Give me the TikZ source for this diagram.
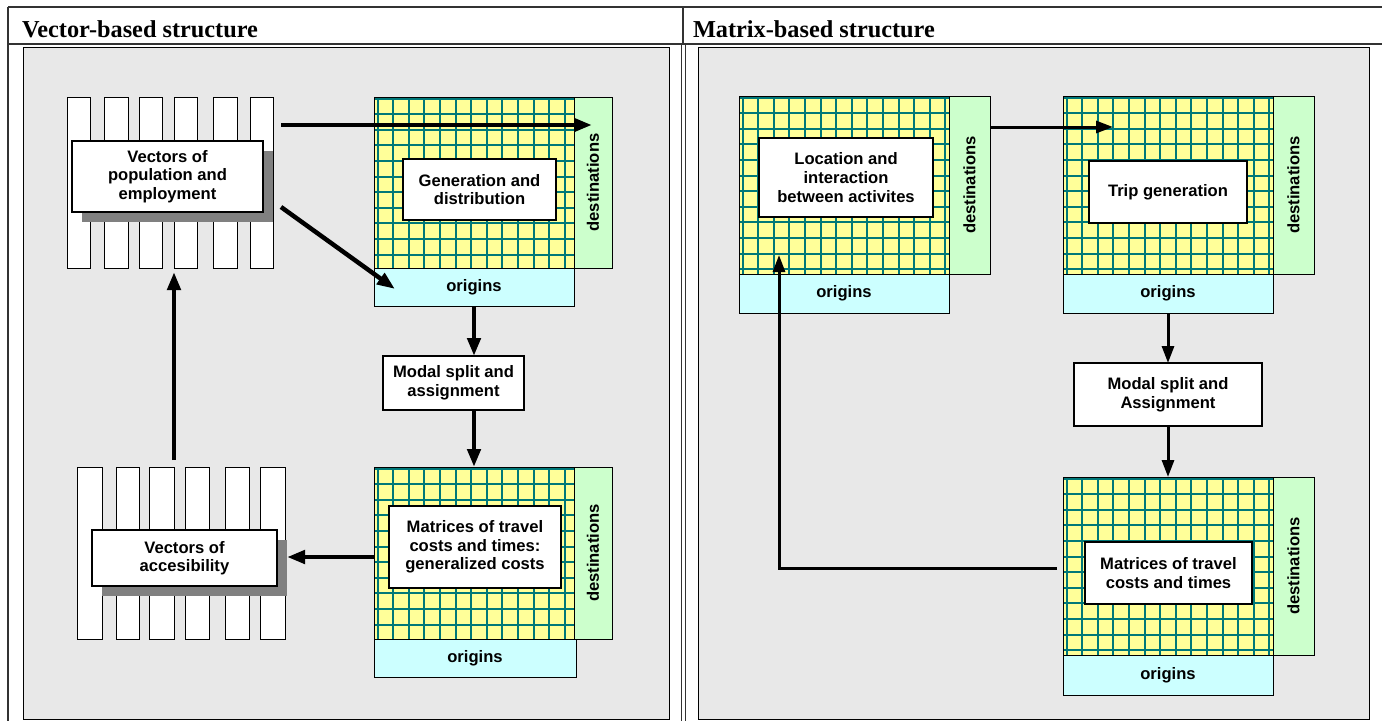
\documentclass[tikz,border=0pt]{standalone}
\usepackage{fontspec}
\setmainfont{Liberation Serif}
\setsansfont{Liberation Sans}
\usetikzlibrary{arrows.meta,fit,shadows,calc}
\definecolor{panelgray}{RGB}{232,232,232}
\definecolor{gridyellow}{RGB}{255,255,153}
\definecolor{gridteal}{RGB}{0,120,120}
\definecolor{destgreen}{RGB}{204,255,204}
\definecolor{origcyan}{RGB}{204,255,255}
\definecolor{shadowgray}{RGB}{128,128,128}
\tikzset{
  every node/.style={inner sep=0, outer sep=0},
  panel/.style={draw=black, line width=1pt, fill=panelgray},
  tableline/.style={draw=black!80, line width=1.3pt},
  bar/.style={draw=black, line width=1pt, fill=white},
  gridbox/.style={draw=black, line width=1pt, fill=gridyellow},
  gridline/.style={draw=gridteal, line width=2pt},
  destbox/.style={draw=black, line width=1pt, fill=destgreen},
  origbox/.style={draw=black, line width=1pt, fill=origcyan},
  lbl/.style={font=\sffamily\bfseries\fontsize{16.6}{18.6}\selectfont, align=center},
  whitebox/.style={draw=black, line width=1.2pt, fill=white, lbl},
  vecbox/.style={whitebox, drop shadow={shadow xshift=10pt, shadow yshift=-10pt, fill=shadowgray, opacity=1}},
  bigarrow/.style={line width=4.5pt, -{Triangle[length=18pt,width=13pt]}},
  arrowR/.style={line width=3pt, -{Triangle[length=17pt,width=12pt]}},
  header/.style={font=\bfseries\fontsize{24.3}{28}\selectfont, anchor=base west},
}
% name, x0, y0, x1, y1, xdest, yorig, xorig
\newcommand\odmat[8]{%
  \node[gridbox, fit={(#2,#3) (#4,#5)}] (#1g) {};
  \begin{scope}
    \clip (#2,#3) rectangle (#4,#5);
    \foreach \i in {0,...,14} \draw[gridline] ({#2+3.5+\i*15.6},#3) -- ({#2+3.5+\i*15.6},#5);
    \foreach \i in {0,...,12} \draw[gridline] (#2,{#3+1.5+\i*15.6}) -- (#4,{#3+1.5+\i*15.6});
  \end{scope}
  \draw[black, line width=1pt] (#1g.south west) rectangle (#1g.north east);
  \node[destbox, fit={(#4,#3) (#6,#5)}] (#1d) {};
  \node[lbl, rotate=90] (#1dt) at (#1d.center) {destinations};
  \node[origbox, fit={(#2,#5) (#8,#7)}] (#1o) {};
  \node[lbl] (#1ot) at (#1o.center) {origins};
}
\begin{document}
\begin{tikzpicture}[x=1pt, y=-1pt]
\useasboundingbox (0,0) rectangle (1382,721);
% table
\draw[tableline] (8,7) -- (1382,7);
\draw[tableline] (8,44) -- (1382,44);
\draw[tableline] (8,7) -- (8,721);
\draw[tableline] (683,7) -- (683,44);
\draw[black!80, line width=1pt] (681,44) -- (681,721);
\draw[black!80, line width=1pt] (685,44) -- (685,721);
\node[header] (h1) at (22,37) {Vector-based structure};
\node[header] (h2) at (693,37) {Matrix-based structure};
% panels
\node[panel, fit={(23,47) (669,719)}] (pL) {};
\node[panel, fit={(698,47) (1369,719)}] (pR) {};

% ---------- left: vectors top
\foreach \a/\b [count=\k] in {67/90,104/128,139/162,174/197,213/237,250/273}
  \node[bar, fit={(\a,97) (\b,268)}] (vt\k) {};
\node[vecbox, minimum width=191, minimum height=71] (vtop) at (167.5,176.5) {Vectors of\\population and\\employment};
% vectors bottom
\foreach \a/\b [count=\k] in {77/102,116/139,149/174,185/209,225/249,260/285}
  \node[bar, fit={(\a,467) (\b,639)}] (vb\k) {};
\node[vecbox, minimum width=185, minimum height=56] (vbot) at (184.5,558) {Vectors of\\accesibility};

% left matrices
\odmat{mA}{374}{97}{574}{268}{612}{306}{574}
\node[whitebox, minimum width=153, minimum height=61] (mAb) at (479.5,189.5) {Generation and\\distribution};
\odmat{mB}{374}{467}{574}{639}{612}{677}{576}
\node[whitebox, minimum width=172, minimum height=82] (mBb) at (475,547) {Matrices of travel\\costs and times:\\generalized costs};
\node[whitebox, minimum width=141, minimum height=54] (modL) at (453.5,383) {Modal split and\\assignment};

% left arrows
\coordinate (a1s) at (281,125);
\coordinate (a1e) at (592,125);
\draw[bigarrow] (a1s) -- (a1e);
\coordinate (a2s) at (281,207);
\coordinate (a2e) at (395,289);
\draw[bigarrow] (a2s) -- (a2e);
\draw[bigarrow] (mAo.south) -- (mAo.south |- modL.north);
\draw[bigarrow] (modL.south -| mBg.north) -- (mBg.north);
\coordinate (a5s) at (374,557);
\coordinate (a5e) at (287,557);
\draw[bigarrow] (a5s) -- (a5e);
\coordinate (a6s) at (174,460);
\coordinate (a6e) at (174,272);
\draw[bigarrow] (a6s) -- (a6e);

% ---------- right matrices
\odmat{mC}{739}{96}{949}{274}{990}{313}{949}
\node[whitebox, minimum width=174, minimum height=79] (mCb) at (846,177.5) {Location and\\interaction\\between activites};
\odmat{mD}{1063}{96}{1273}{274}{1314}{313}{1273}
\node[whitebox, minimum width=158, minimum height=62] (mDb) at (1168,192) {Trip generation};
\odmat{mE}{1063}{477}{1273}{655}{1314}{695}{1273}
\node[whitebox, minimum width=167, minimum height=62] (mEb) at (1168.5,573) {Matrices of travel\\costs and times};
\node[whitebox, minimum width=188, minimum height=63] (modR) at (1168,394.5) {Modal split and\\Assignment};

% right arrows
\coordinate (b1e) at (1113,127);
\draw[arrowR] (mCd.east |- b1e) -- (b1e);
\draw[arrowR] (mDo.south) -- (modR.north);
\draw[arrowR] (modR.south) -- (mEg.north);
\coordinate (b4s) at (1057,568);
\coordinate (b4e) at (779,255);
\draw[arrowR] (b4s) -| (b4e);
\end{tikzpicture}
\end{document}
